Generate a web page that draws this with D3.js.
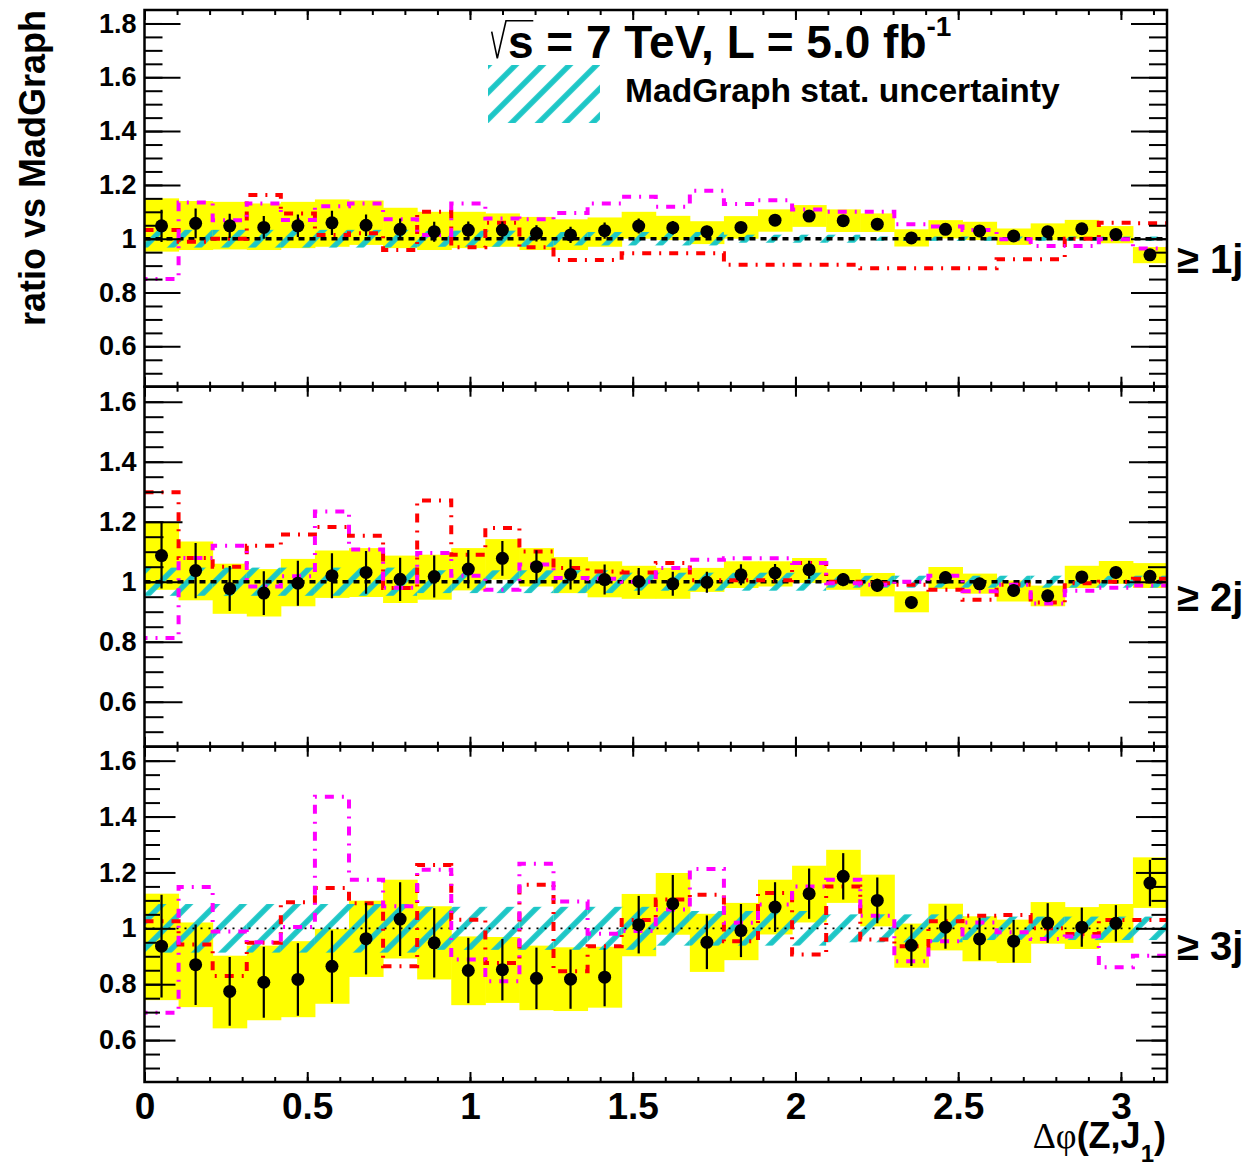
<!DOCTYPE html>
<html>
<head>
<meta charset="utf-8">
<script src="https://cdn.jsdelivr.net/npm/d3@7"></script>
<style>
  body { margin: 0; background: #fff; }
  text { font-family: "Liberation Sans", Arial, sans-serif; font-weight: bold; }
</style>
</head>
<body>
<script>
// 30 bins in delta phi, 0..pi
const nBins = 30
const xTicks = [0, 0.5, 1, 1.5, 2, 2.5, 3]
const jetLabels = ['≥ 1j', '≥ 2j', '≥ 3j']

// >= 1 jet
const data1 = [1.048, 1.057, 1.048, 1.042, 1.048, 1.059, 1.05, 1.035, 1.026, 1.032, 1.032, 1.02, 1.014, 1.03, 1.047,
  1.041, 1.026, 1.042, 1.069, 1.084, 1.067, 1.054, 1.003, 1.035, 1.029, 1.01, 1.026, 1.037, 1.016, 0.94]
const stat1 = [0.06, 0.055, 0.045, 0.042, 0.042, 0.045, 0.04, 0.04, 0.037, 0.032, 0.032, 0.03, 0.03, 0.03, 0.028,
  0.025, 0.022, 0.02, 0.015, 0.015, 0.015, 0.015, 0.015, 0.015, 0.015, 0.015, 0.015, 0.015, 0.015, 0.015]
const bandHi1 = [1.15, 1.14, 1.137, 1.131, 1.137, 1.146, 1.142, 1.115, 1.1, 1.1, 1.094, 1.081, 1.072, 1.079, 1.1,
  1.085, 1.065, 1.084, 1.109, 1.125, 1.109, 1.094, 1.035, 1.069, 1.063, 1.038, 1.057, 1.07, 1.047, 0.969]
const bandLo1 = [0.952, 0.958, 0.96, 0.958, 0.965, 0.97, 0.977, 0.965, 0.958, 0.965, 0.97, 0.958, 0.958, 0.97, 1.0,
  0.995, 0.98, 1.0, 1.026, 1.044, 1.025, 1.025, 0.971, 1.001, 0.995, 0.977, 0.995, 1.0, 0.983, 0.909]
const mgErr1 = [0.033, 0.033, 0.033, 0.033, 0.033, 0.033, 0.033, 0.033, 0.03, 0.03, 0.03, 0.03, 0.025, 0.025, 0.025,
  0.025, 0.025, 0.015, 0.015, 0.015, 0.015, 0.008, 0.008, 0.008, 0.008, 0.008, 0.008, 0.008, 0.008, 0.008]
const red1 = [1.032, 0.989, 1.0, 1.162, 1.094, 1.014, 1.02, 0.958, 1.1, 0.968, 1.059, 0.968, 0.921, 0.921, 0.946,
  0.946, 0.946, 0.903, 0.903, 0.903, 0.903, 0.89, 0.89, 0.89, 0.89, 0.924, 0.924, 1.0, 1.059, 1.057]
const magenta1 = [0.85, 1.135, 1.069, 1.131, 1.07, 1.121, 1.131, 1.072, 1.014, 1.131, 1.075, 1.072, 1.096, 1.131, 1.156,
  1.119, 1.178, 1.129, 1.143, 1.109, 1.1, 1.1, 1.054, 1.045, 1.032, 0.998, 0.973, 0.973, 0.998, 0.964]

// >= 2 jets
const data2 = [1.087, 1.037, 0.977, 0.962, 0.995, 1.02, 1.031, 1.008, 1.017, 1.042, 1.078, 1.05, 1.024, 1.007, 1.001,
  0.993, 0.998, 1.023, 1.029, 1.04, 1.007, 0.988, 0.931, 1.014, 0.993, 0.971, 0.953, 1.016, 1.031, 1.018]
const stat2 = [0.11, 0.092, 0.075, 0.073, 0.075, 0.075, 0.071, 0.072, 0.07, 0.064, 0.058, 0.055, 0.05, 0.05, 0.045,
  0.04, 0.035, 0.035, 0.03, 0.03, 0.022, 0.022, 0.02, 0.02, 0.02, 0.02, 0.02, 0.02, 0.02, 0.02]
const bandHi2 = [1.198, 1.134, 1.06, 1.042, 1.076, 1.104, 1.112, 1.087, 1.09, 1.112, 1.142, 1.112, 1.082, 1.068, 1.053,
  1.046, 1.046, 1.068, 1.068, 1.079, 1.042, 1.029, 0.968, 1.049, 1.027, 1.004, 0.987, 1.053, 1.069, 1.062]
const bandLo2 = [0.973, 0.938, 0.893, 0.884, 0.918, 0.946, 0.949, 0.929, 0.94, 0.971, 1.007, 0.984, 0.962, 0.948, 0.943,
  0.943, 0.966, 0.979, 0.984, 0.996, 0.973, 0.951, 0.898, 0.976, 0.96, 0.934, 0.918, 0.979, 0.993, 0.979]
const mgErr2 = [0.047, 0.047, 0.047, 0.047, 0.047, 0.047, 0.047, 0.047, 0.038, 0.038, 0.038, 0.038, 0.038, 0.038, 0.03,
  0.03, 0.03, 0.03, 0.03, 0.03, 0.02, 0.02, 0.02, 0.02, 0.02, 0.02, 0.02, 0.02, 0.02, 0.02]
const red2 = [1.298, 1.079, 1.05, 1.12, 1.157, 1.182, 1.153, 0.979, 1.271, 1.09, 1.179, 1.101, 1.046, 1.034, 1.031,
  1.062, 1.005, 1.005, 1.005, 1.062, 1.0, 0.995, 0.99, 0.973, 0.94, 0.99, 0.931, 0.995, 1.0, 1.01]
const magenta2 = [0.812, 1.079, 1.12, 0.984, 1.018, 1.234, 1.107, 0.98, 1.096, 1.02, 0.973, 1.057, 1.012, 1.01, 1.0,
  1.046, 1.073, 1.078, 1.078, 1.062, 0.995, 0.99, 1.0, 1.02, 0.968, 0.99, 0.927, 0.97, 0.98, 0.987]

// >= 3 jets
const data3 = [0.936, 0.87, 0.774, 0.807, 0.817, 0.864, 0.963, 1.033, 0.948, 0.849, 0.852, 0.821, 0.818, 0.825, 1.013,
  1.088, 0.95, 0.992, 1.076, 1.124, 1.186, 1.1, 0.939, 1.004, 0.962, 0.954, 1.019, 1.004, 1.018, 1.162]
const stat3 = [0.184, 0.144, 0.123, 0.127, 0.13, 0.128, 0.128, 0.132, 0.124, 0.117, 0.11, 0.11, 0.106, 0.104, 0.103,
  0.103, 0.096, 0.095, 0.089, 0.09, 0.083, 0.082, 0.074, 0.077, 0.076, 0.076, 0.071, 0.07, 0.065, 0.083]
const bandHi3 = [1.124, 1.021, 0.902, 0.938, 0.954, 0.998, 1.099, 1.174, 1.079, 0.971, 0.969, 0.938, 0.932, 0.934, 1.123,
  1.198, 1.052, 1.091, 1.174, 1.224, 1.281, 1.192, 1.017, 1.088, 1.043, 1.031, 1.094, 1.076, 1.087, 1.254]
const bandLo3 = [0.743, 0.718, 0.642, 0.671, 0.682, 0.73, 0.826, 0.892, 0.817, 0.725, 0.733, 0.707, 0.704, 0.716, 0.9,
  0.977, 0.844, 0.886, 0.978, 1.021, 1.091, 1.007, 0.859, 0.921, 0.882, 0.876, 0.945, 0.926, 0.948, 1.073]
const mgErr3 = [0.087, 0.087, 0.087, 0.087, 0.087, 0.087, 0.087, 0.087, 0.077, 0.077, 0.077, 0.077, 0.077, 0.077, 0.077,
  0.062, 0.062, 0.062, 0.062, 0.062, 0.05, 0.05, 0.05, 0.05, 0.042, 0.042, 0.042, 0.042, 0.042, 0.042]
const red3 = [1.025, 0.942, 0.829, 0.948, 1.093, 1.144, 1.09, 0.864, 1.227, 1.031, 0.876, 1.156, 0.846, 0.936, 1.03,
  1.103, 1.12, 0.954, 1.126, 0.906, 1.15, 0.96, 0.936, 1.025, 1.045, 1.048, 1.0, 0.98, 1.03, 1.03]
const magenta3 = [0.698, 1.148, 0.989, 0.95, 1.005, 1.471, 1.174, 1.079, 1.21, 0.888, 0.811, 1.231, 1.096, 0.981, 0.99,
  1.067, 1.212, 1.02, 1.085, 1.15, 1.174, 1.045, 0.882, 0.954, 1.021, 0.986, 0.962, 0.971, 0.861, 0.902]

const width = 1258
const height = 1167
const left = 144.5
const right = 1167
const hatchColor = '#1cc6c6'

const edges = d3.range(nBins + 1).map((i) => (i * Math.PI) / nBins)
const x = d3.scaleLinear().domain([0, Math.PI]).range([left, right])

const panels = [
  { top: 10, bottom: 386.7, ymax: 1.85, tick: 36, labelY: 273, line: 'thick',
    data: data1, stat: stat1, hi: bandHi1, lo: bandLo1, mg: mgErr1, red: red1, mag: magenta1 },
  { top: 386.7, bottom: 746.7, ymax: 1.65, tick: 38, labelY: 611, line: 'thick',
    data: data2, stat: stat2, hi: bandHi2, lo: bandLo2, mg: mgErr2, red: red2, mag: magenta2 },
  { top: 746.7, bottom: 1082, ymax: 1.65, tick: 31, labelY: 960, line: 'thin',
    data: data3, stat: stat3, hi: bandHi3, lo: bandLo3, mg: mgErr3, red: red3, mag: magenta3 },
]

const svg = d3.select('body').append('svg').attr('width', width).attr('height', height)

const defs = svg.append('defs')
const pattern = defs.append('pattern')
  .attr('id', 'hatch')
  .attr('patternUnits', 'userSpaceOnUse')
  .attr('width', 27 / Math.SQRT2)
  .attr('height', 20)
  .attr('patternTransform', 'rotate(45)')
pattern.append('line')
  .attr('x1', 27 / Math.SQRT2 / 2).attr('x2', 27 / Math.SQRT2 / 2)
  .attr('y1', 0).attr('y2', 20)
  .attr('stroke', hatchColor)
  .attr('stroke-width', 5.5)

const bins = d3.range(nBins)

panels.forEach((p, k) => {
  const y = d3.scaleLinear().domain([0.45, p.ymax]).range([p.bottom, p.top])
  const clipId = 'clip' + k
  defs.append('clipPath').attr('id', clipId)
    .append('rect')
    .attr('x', left).attr('y', p.top)
    .attr('width', right - left).attr('height', p.bottom - p.top)

  const g = svg.append('g').attr('clip-path', `url(#${clipId})`)

  // data systematic band
  g.selectAll('.band')
    .data(bins)
    .enter()
    .append('rect')
    .attr('x', (i) => x(edges[i]))
    .attr('width', (i) => x(edges[i + 1]) - x(edges[i]) + 0.5)
    .attr('y', (i) => y(p.hi[i]))
    .attr('height', (i) => y(p.lo[i]) - y(p.hi[i]))
    .attr('fill', '#ffff00')

  // MadGraph stat. band
  g.selectAll('.mg')
    .data(bins)
    .enter()
    .append('rect')
    .attr('x', (i) => x(edges[i]))
    .attr('width', (i) => x(edges[i + 1]) - x(edges[i]))
    .attr('y', (i) => y(1 + p.mg[i]))
    .attr('height', (i) => y(1 - p.mg[i]) - y(1 + p.mg[i]))
    .attr('fill', 'url(#hatch)')

  // MadGraph reference at 1
  g.append('line')
    .attr('x1', left).attr('x2', right)
    .attr('y1', y(1)).attr('y2', y(1))
    .attr('stroke', 'black')
    .attr('stroke-width', p.line === 'thick' ? 3.5 : 1.8)
    .attr('stroke-dasharray', p.line === 'thick' ? '6,5' : '2,6')

  const step = d3.line()
    .x((d) => x(d[0]))
    .y((d) => y(d[1]))
    .curve(d3.curveStepAfter)
  const histo = (vals) => vals.map((v, i) => [edges[i], v]).concat([[edges[nBins], vals[nBins - 1]]])

  g.append('path')
    .attr('d', step(histo(p.red)))
    .attr('fill', 'none')
    .attr('stroke', '#ff0000')
    .attr('stroke-width', 4)
    .attr('stroke-dasharray', '9,8,2,8')

  g.append('path')
    .attr('d', step(histo(p.mag)))
    .attr('fill', 'none')
    .attr('stroke', '#ff00ff')
    .attr('stroke-width', 4)
    .attr('stroke-dasharray', '9,8,2,8')
    .attr('stroke-dashoffset', 6)

  // data points
  const mid = (i) => x((edges[i] + edges[i + 1]) / 2)
  g.selectAll('.err')
    .data(bins)
    .enter()
    .append('line')
    .attr('x1', mid).attr('x2', mid)
    .attr('y1', (i) => y(p.data[i] + p.stat[i]))
    .attr('y2', (i) => y(p.data[i] - p.stat[i]))
    .attr('stroke', 'black')
    .attr('stroke-width', 2.2)
  g.selectAll('.pt')
    .data(bins)
    .enter()
    .append('circle')
    .attr('cx', mid)
    .attr('cy', (i) => y(p.data[i]))
    .attr('r', 6.5)
    .attr('fill', 'black')

  // axes, ticks inward on all four sides
  const yMajor = [0.6, 0.8, 1, 1.2, 1.4, 1.6, 1.8].filter((v) => v < p.ymax)
  const yMinor = d3.range(10, Math.round(p.ymax / 0.05)).map((v) => v * 0.05)
  const xMinor = d3.range(0, 32).map((v) => v * 0.1)

  const fmtY = (v) => String(+v.toFixed(1))
  const axes = [
    svg.append('g').attr('transform', `translate(${left},0)`)
      .call(d3.axisLeft(y).tickValues(yMinor).tickSize(-p.tick / 2).tickFormat('')),
    svg.append('g').attr('transform', `translate(${left},0)`)
      .call(d3.axisLeft(y).tickValues(yMajor).tickSize(-p.tick).tickPadding(8).tickFormat(fmtY)),
    svg.append('g').attr('transform', `translate(${right},0)`)
      .call(d3.axisRight(y).tickValues(yMinor).tickSize(-p.tick / 2).tickFormat('')),
    svg.append('g').attr('transform', `translate(${right},0)`)
      .call(d3.axisRight(y).tickValues(yMajor).tickSize(-p.tick).tickFormat('')),
    svg.append('g').attr('transform', `translate(0,${p.top})`)
      .call(d3.axisTop(x).tickValues(xMinor).tickSize(-5).tickFormat('')),
    svg.append('g').attr('transform', `translate(0,${p.top})`)
      .call(d3.axisTop(x).tickValues(xTicks).tickSize(-10).tickFormat('')),
    svg.append('g').attr('transform', `translate(0,${p.bottom})`)
      .call(d3.axisBottom(x).tickValues(xMinor).tickSize(-5).tickFormat('')),
    svg.append('g').attr('transform', `translate(0,${p.bottom})`)
      .call(d3.axisBottom(x).tickValues(xTicks).tickSize(-10).tickPadding(11)
        .tickFormat(k === 2 ? (v) => String(v) : '')),
  ]
  axes.forEach((a) => {
    a.select('.domain').remove()
    a.selectAll('line').attr('stroke', 'black').attr('stroke-width', 2)
    a.selectAll('text').attr('fill', 'black')
      .style('font-family', '"Liberation Sans", Arial, sans-serif')
      .style('font-weight', 'bold')
  })
  axes[1].selectAll('text').style('font-size', '27px')
  axes[7].selectAll('text').style('font-size', '37px')

  // frame
  svg.append('rect')
    .attr('x', left).attr('y', p.top)
    .attr('width', right - left).attr('height', p.bottom - p.top)
    .attr('fill', 'none')
    .attr('stroke', 'black')
    .attr('stroke-width', 2.5)

  svg.append('text')
    .attr('x', 1177)
    .attr('y', p.labelY)
    .style('font-size', '40px')
    .text(jetLabels[k])
})

// y title
svg.append('text')
  .attr('transform', 'translate(45,10) rotate(-90)')
  .attr('text-anchor', 'end')
  .style('font-size', '36px')
  .text('ratio vs MadGraph')

// x title
const xt = svg.append('text')
  .attr('x', 1166)
  .attr('y', 1148)
  .attr('text-anchor', 'end')
  .style('font-size', '36px')
xt.append('tspan').style('font-family', '"Liberation Serif", serif').style('font-weight', 'normal').text('Δφ')
xt.append('tspan').text('(Z,J')
xt.append('tspan').attr('dy', 14).style('font-size', '24px').text('1')
xt.append('tspan').attr('dy', -14).text(')')

// energy / lumi header
svg.append('path')
  .attr('d', 'M491.7,31.7 L497.3,58.3 L506,20.7 L533.3,20.7')
  .attr('fill', 'none')
  .attr('stroke', 'black')
  .attr('stroke-width', 1.6)
const hdr = svg.append('text')
  .attr('x', 508)
  .attr('y', 58)
  .style('font-size', '46px')
hdr.append('tspan').text('s = 7 TeV, L = 5.0 fb')
hdr.append('tspan').attr('dy', -22).style('font-size', '28px').text('-1')

// legend
svg.append('rect')
  .attr('x', 488).attr('y', 65)
  .attr('width', 112).attr('height', 58)
  .attr('fill', 'url(#hatch)')
svg.append('text')
  .attr('x', 625)
  .attr('y', 102)
  .style('font-size', '33.6px')
  .text('MadGraph stat. uncertainty')
</script>
</body>
</html>
